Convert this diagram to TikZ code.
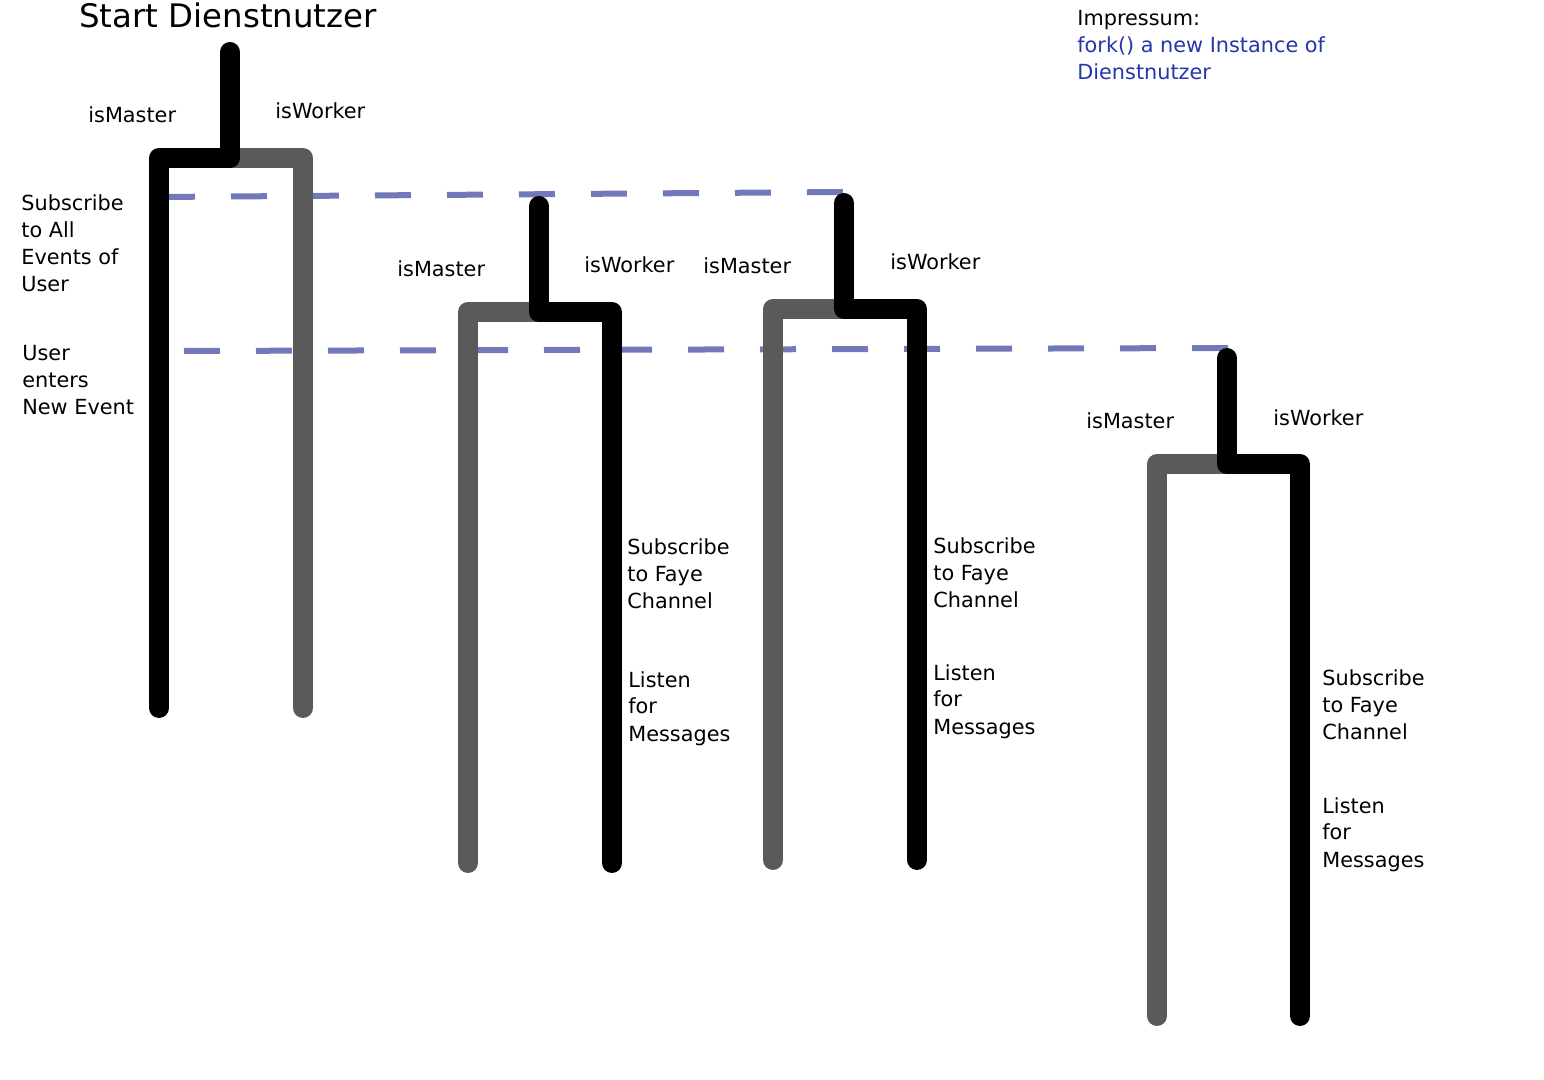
\documentclass[tikz,border=0pt]{standalone}
\usepackage{fontspec}
\setmainfont{DejaVu Sans}
\definecolor{forkgray}{RGB}{90,90,90}
\definecolor{eventblue}{RGB}{113,121,186}
\definecolor{notetext}{RGB}{35,55,170}
\begin{document}
\begin{tikzpicture}[x=0.5pt, y=-0.5pt,
  every node/.style={inner sep=0pt, anchor=base west, align=left,
    font=\fontsize{10.4}{13.5}\selectfont},
  mainline/.style={line width=10pt, black, line cap=round, line join=round},
  sideline/.style={line width=10pt, forkgray, line cap=round, line join=round},
  eventline/.style={line width=3pt, eventblue, dash pattern=on 18pt off 18pt}]
  \useasboundingbox (0,0) rectangle (1544,1080);

  % fork points
  \coordinate (f1top) at (230,52);   \coordinate (f1split) at (230,158);
  \coordinate (f1left) at (159,158); \coordinate (f1right) at (303,158);
  \coordinate (f1lend) at (159,708); \coordinate (f1rend) at (303,708);

  \coordinate (f2top) at (539,206);  \coordinate (f2split) at (539,312);
  \coordinate (f2left) at (468,312); \coordinate (f2right) at (612,312);
  \coordinate (f2lend) at (468,863); \coordinate (f2rend) at (612,863);

  \coordinate (f3top) at (844,203);  \coordinate (f3split) at (844,309);
  \coordinate (f3left) at (773,309); \coordinate (f3right) at (917,309);
  \coordinate (f3lend) at (773,860); \coordinate (f3rend) at (917,860);

  \coordinate (f4top) at (1227,358);  \coordinate (f4split) at (1227,464);
  \coordinate (f4left) at (1157,464); \coordinate (f4right) at (1300,464);
  \coordinate (f4lend) at (1157,1016); \coordinate (f4rend) at (1300,1016);

  % events
  \coordinate (ev1a) at (159,197);  \coordinate (ev1b) at (843,192);
  \coordinate (ev2a) at (184,351);  \coordinate (ev2b) at (1228,348);
  \draw[eventline] (ev1a) -- (ev1b);
  \draw[eventline] (ev2a) -- (ev2b);

  % first process
  \draw[sideline] (f1split) -- (f1right) -- (f1rend);
  \draw[mainline] (f1top) -- (f1split) -- (f1left) -- (f1lend);

  % forked workers
  \draw[sideline] (f2split) -- (f2left) -- (f2lend);
  \draw[mainline] (f2top) -- (f2split) -- (f2right) -- (f2rend);

  \draw[sideline] (f3split) -- (f3left) -- (f3lend);
  \draw[mainline] (f3top) -- (f3split) -- (f3right) -- (f3rend);

  \draw[sideline] (f4split) -- (f4left) -- (f4lend);
  \draw[mainline] (f4top) -- (f4split) -- (f4right) -- (f4rend);

  % labels (multi-line ones sit on their last line)
  \node[font=\fontsize{16.2}{19}\selectfont] (title) at (79,28) {Start Dienstnutzer};
  \node (note) at (1077,80) {Impressum:\\\textcolor{notetext}{fork() a new Instance of}\\\textcolor{notetext}{Dienstnutzer}};

  \node (m1) at (88,123) {isMaster};
  \node (w1) at (275,119) {isWorker};
  \node (m2) at (397,277) {isMaster};
  \node (w2) at (584,273) {isWorker};
  \node (m3) at (703,274) {isMaster};
  \node (w3) at (890,270) {isWorker};
  \node (m4) at (1086,429) {isMaster};
  \node (w4) at (1273,426) {isWorker};

  \node (allev) at (21,292) {Subscribe\\to All\\Events of\\User};
  \node (newev) at (22,415) {User\\enters\\New Event};

  \node (sub2) at (627,609) {Subscribe\\to Faye\\Channel};
  \node (lis2) at (628,741) {Listen\\for\\Messages};
  \node (sub3) at (933,608) {Subscribe\\to Faye\\Channel};
  \node (lis3) at (933,734) {Listen\\for\\Messages};
  \node (sub4) at (1322,740) {Subscribe\\to Faye\\Channel};
  \node (lis4) at (1322,867) {Listen\\for\\Messages};
\end{tikzpicture}
\end{document}
